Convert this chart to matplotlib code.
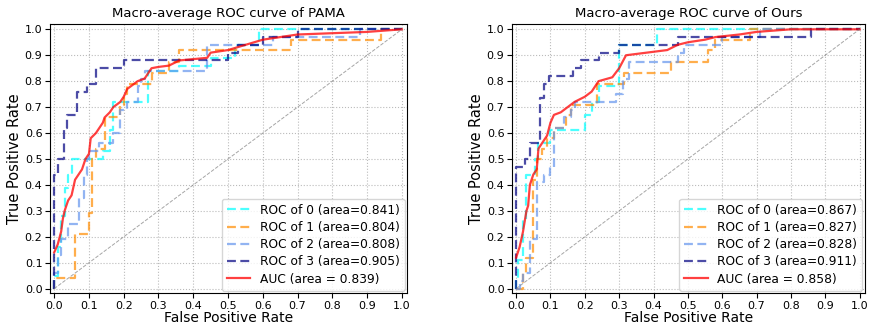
import numpy as np
import matplotlib
matplotlib.use("Agg")
from matplotlib import pyplot as plt

# ---- PAMA (left) ----
pama_fpr0 = [0, 0, 0.01, 0.01, 0.02, 0.02, 0.03, 0.03, 0.04, 0.04, 0.05, 0.05, 0.14, 0.14, 0.16, 0.16, 0.17, 0.17,
             0.27, 0.27, 0.36, 0.36, 0.45, 0.45, 0.52, 0.52, 0.59, 0.59, 1.0]
pama_tpr0 = [0, 0.05, 0.05, 0.16, 0.16, 0.28, 0.28, 0.39, 0.39, 0.44, 0.44, 0.5, 0.5, 0.53, 0.53, 0.61, 0.61, 0.72,
             0.72, 0.84, 0.84, 0.86, 0.86, 0.89, 0.89, 0.94, 0.94, 1.0, 1.0]
pama_fpr1 = [0, 0, 0.06, 0.06, 0.1, 0.1, 0.11, 0.11, 0.12, 0.12, 0.145, 0.145, 0.19, 0.19, 0.2, 0.2, 0.21, 0.21,
             0.28, 0.28, 0.33, 0.33, 0.36, 0.36, 0.68, 0.68, 0.94, 0.94, 1.0]
pama_tpr1 = [0, 0.04, 0.04, 0.21, 0.21, 0.29, 0.29, 0.5, 0.5, 0.54, 0.54, 0.66, 0.66, 0.71, 0.71, 0.75, 0.75, 0.79,
             0.79, 0.83, 0.83, 0.875, 0.875, 0.92, 0.92, 0.96, 0.96, 1.0, 1.0]
pama_fpr2 = [0, 0, 0.01, 0.01, 0.02, 0.02, 0.04, 0.04, 0.07, 0.07, 0.085, 0.085, 0.095, 0.095, 0.1, 0.1, 0.13, 0.13,
             0.17, 0.17, 0.19, 0.19, 0.21, 0.21, 0.24, 0.24, 0.25, 0.25, 0.26, 0.26, 0.44, 0.44, 0.63, 0.63,
             0.88, 0.88, 1.0]
pama_tpr2 = [0, 0.06, 0.06, 0.13, 0.13, 0.19, 0.19, 0.25, 0.25, 0.35, 0.35, 0.44, 0.44, 0.5, 0.5, 0.53, 0.53, 0.56,
             0.56, 0.6, 0.6, 0.69, 0.69, 0.72, 0.72, 0.78, 0.78, 0.81, 0.81, 0.84, 0.84, 0.94, 0.94, 0.97,
             0.97, 1.0, 1.0]
pama_fpr3 = [0, 0, 0.012, 0.012, 0.028, 0.028, 0.038, 0.038, 0.066, 0.066, 0.093, 0.093, 0.12, 0.12, 0.2, 0.2,
             0.5, 0.5, 0.53, 0.53, 0.6, 0.6, 0.7, 0.7, 1.0]
pama_tpr3 = [0, 0.44, 0.44, 0.5, 0.5, 0.62, 0.62, 0.67, 0.67, 0.76, 0.76, 0.79, 0.79, 0.85, 0.85, 0.88,
             0.88, 0.91, 0.91, 0.94, 0.94, 0.97, 0.97, 1.0, 1.0]
pama_fpr_m = [0, 0.01, 0.02, 0.025, 0.03, 0.04, 0.05, 0.06, 0.07, 0.08, 0.09, 0.1, 0.105, 0.12, 0.13, 0.14, 0.145,
              0.16, 0.17, 0.19, 0.2, 0.21, 0.22, 0.24, 0.26, 0.28, 0.3, 0.33, 0.36, 0.44, 0.45, 0.5, 0.55, 0.6,
              0.7, 0.9, 1.0]
pama_tpr_m = [0.14, 0.17, 0.22, 0.27, 0.3, 0.34, 0.36, 0.42, 0.44, 0.46, 0.5, 0.52, 0.58, 0.6, 0.62, 0.64, 0.66,
              0.68, 0.7, 0.72, 0.74, 0.77, 0.78, 0.8, 0.81, 0.85, 0.855, 0.86, 0.88, 0.89, 0.91, 0.92, 0.94, 0.96,
              0.98, 0.99, 1.0]
pama_auc = [0.841, 0.804, 0.808, 0.905]
pama_macro = 0.839

# ---- Ours (right) ----
ours_fpr0 = [0, 0, 0.005, 0.005, 0.02, 0.02, 0.03, 0.03, 0.055, 0.055, 0.065, 0.065, 0.1, 0.1, 0.2, 0.2, 0.22, 0.22,
             0.24, 0.24, 0.3, 0.3, 0.41, 0.41, 1.0]
ours_tpr0 = [0, 0.03, 0.03, 0.11, 0.11, 0.27, 0.27, 0.44, 0.44, 0.5, 0.5, 0.56, 0.56, 0.61, 0.61, 0.67, 0.67, 0.72,
             0.72, 0.78, 0.78, 0.94, 0.94, 1.0, 1.0]
ours_fpr1 = [0, 0.02, 0.02, 0.03, 0.03, 0.05, 0.05, 0.06, 0.06, 0.075, 0.075, 0.09, 0.09, 0.11, 0.11, 0.145, 0.145,
             0.16, 0.16, 0.235, 0.235, 0.315, 0.315, 0.45, 0.45, 0.56, 0.56, 0.58, 0.58, 0.68, 0.68, 1.0]
ours_tpr1 = [0, 0, 0.06, 0.06, 0.12, 0.12, 0.42, 0.42, 0.5, 0.5, 0.54, 0.54, 0.58, 0.58, 0.62, 0.62, 0.67,
             0.67, 0.71, 0.71, 0.79, 0.79, 0.83, 0.83, 0.875, 0.875, 0.92, 0.92, 0.96, 0.96, 1.0, 1.0]
ours_fpr2 = [0, 0.01, 0.01, 0.02, 0.02, 0.04, 0.04, 0.06, 0.06, 0.08, 0.08, 0.1, 0.1, 0.11, 0.11, 0.14, 0.14, 0.16,
             0.16, 0.17, 0.17, 0.29, 0.29, 0.31, 0.31, 0.33, 0.33, 0.47, 0.47, 0.49, 0.49, 0.6, 0.6, 0.71, 0.71, 1.0]
ours_tpr2 = [0, 0, 0.03, 0.03, 0.06, 0.06, 0.19, 0.19, 0.41, 0.41, 0.44, 0.44, 0.47, 0.47, 0.62, 0.62, 0.66, 0.66,
             0.69, 0.69, 0.72, 0.72, 0.75, 0.75, 0.81, 0.81, 0.875, 0.875, 0.91, 0.91, 0.94, 0.94, 0.97, 0.97,
             1.0, 1.0]
ours_fpr3 = [0, 0, 0.025, 0.025, 0.04, 0.04, 0.07, 0.07, 0.08, 0.08, 0.095, 0.095, 0.165, 0.165, 0.19, 0.19,
             0.24, 0.24, 0.3, 0.3, 0.47, 0.47, 0.86, 0.86, 1.0]
ours_tpr3 = [0, 0.47, 0.47, 0.5, 0.5, 0.56, 0.56, 0.735, 0.735, 0.79, 0.79, 0.82, 0.82, 0.85, 0.85, 0.88,
             0.88, 0.91, 0.91, 0.94, 0.94, 0.97, 0.97, 1.0, 1.0]
ours_fpr_m = [0, 0.01, 0.02, 0.03, 0.035, 0.04, 0.05, 0.06, 0.065, 0.08, 0.09, 0.1, 0.11, 0.13, 0.15, 0.17, 0.2,
              0.22, 0.24, 0.28, 0.3, 0.32, 0.35, 0.44, 0.47, 0.5, 0.55, 0.58, 0.65, 0.7, 0.8, 1.0]
ours_tpr_m = [0.12, 0.16, 0.22, 0.3, 0.32, 0.4, 0.44, 0.46, 0.54, 0.57, 0.59, 0.64, 0.67, 0.68, 0.7, 0.72, 0.74,
              0.76, 0.8, 0.815, 0.85, 0.9, 0.905, 0.92, 0.94, 0.95, 0.96, 0.97, 0.98, 0.99, 1.0, 1.0]
ours_auc = [0.867, 0.827, 0.828, 0.911]
ours_macro = 0.858

colors = ["aqua", "darkorange", "cornflowerblue", "navy"]


def draw(ax, fprs, tprs, aucs, fpr_m, tpr_m, macro, title):
    for i, (f, t) in enumerate(zip(fprs, tprs)):
        ax.plot(f, t, color=colors[i], lw=1.6, alpha=0.7, linestyle=(0, (4, 2)),
                label="ROC of {} (area={:.3f})".format(i, aucs[i]))
    ax.plot(fpr_m, tpr_m, color="red", lw=1.6, alpha=0.75,
            label="AUC (area = {:.3f})".format(macro))
    ax.plot([0, 1], [0, 1], color="gray", lw=0.7, linestyle="--", alpha=0.7)
    ax.set_xlim(-0.012, 1.015)
    ax.set_ylim(-0.017, 1.02)
    ax.set_xticks(np.arange(0, 1.01, 0.1))
    ax.set_yticks(np.arange(0, 1.01, 0.1))
    ax.tick_params(labelsize=8, pad=2)
    ax.grid(True, linestyle=":", color="#bbbbbb", lw=0.8)
    ax.set_xlabel("False Positive Rate", fontsize=10, labelpad=0)
    ax.set_ylabel("True Positive Rate", fontsize=10.5, labelpad=2)
    ax.set_title(title, fontsize=9.5, pad=5)
    ax.legend(loc="lower right", fontsize=8.8, handlelength=1.9, borderpad=0.4, labelspacing=0.35,
              borderaxespad=0.2)


fig = plt.figure(figsize=(8.73, 3.26), dpi=100)
ax1 = fig.add_axes([0.0573, 0.101, 0.409, 0.825])
ax2 = fig.add_axes([0.5865, 0.101, 0.404, 0.825])
draw(ax1, [pama_fpr0, pama_fpr1, pama_fpr2, pama_fpr3], [pama_tpr0, pama_tpr1, pama_tpr2, pama_tpr3],
     pama_auc, pama_fpr_m, pama_tpr_m, pama_macro, "Macro-average ROC curve of PAMA")
draw(ax2, [ours_fpr0, ours_fpr1, ours_fpr2, ours_fpr3], [ours_tpr0, ours_tpr1, ours_tpr2, ours_tpr3],
     ours_auc, ours_fpr_m, ours_tpr_m, ours_macro, "Macro-average ROC curve of Ours")
fig.savefig("out.png", dpi=100)
